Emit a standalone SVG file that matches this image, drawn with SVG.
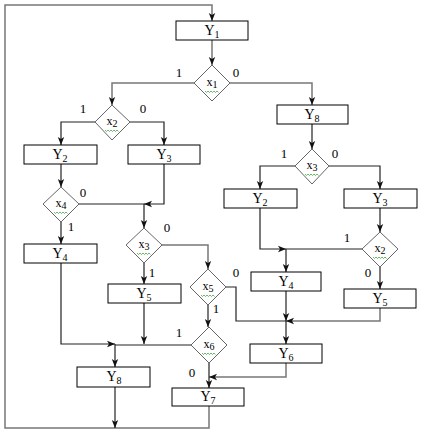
<svg xmlns="http://www.w3.org/2000/svg" width="422" height="433" viewBox="0 0 422 433">
<defs>
<marker id="ah" markerUnits="userSpaceOnUse" markerWidth="8" markerHeight="8" refX="8" refY="4" orient="auto">
<path d="M0,0.8 L8,4 L0,7.2 L2,4 z" fill="#111"/>
</marker>
<path id="squig" d="M-7,0 l1.5,1.5 l1.5,-1.5 l1.5,1.5 l1.5,-1.5 l1.5,1.5 l1.5,-1.5 l1.5,1.5 l1.5,-1.5 l1.5,1.5" fill="none" stroke="#4a4" stroke-width="0.8"/>
</defs>
<style>
.box{fill:#fff;stroke:#000;stroke-width:1}
.dia{fill:#fff;stroke:#666;stroke-width:1}
text{font-family:"Liberation Serif","Times New Roman",serif;font-weight:normal;fill:#000;text-anchor:middle}
.t{font-size:14px}
.s{font-size:10px}
.d{font-size:12px}
.lb{font-size:13px}
.c{fill:none;stroke:#222;stroke-width:1.2}
.g{fill:none;stroke:#777;stroke-width:1.5}
.a{marker-end:url(#ah)}
</style>
<rect width="422" height="433" fill="#fff"/>
<g id="connectors">
<path class="g a" d="M209,406 V428 H5 V5 H212 V21"/>
<path class="g a" d="M212,40 V65"/>
<path class="g a" d="M194,83 H112 V105"/>
<path class="g a" d="M229,83 H312 V105"/>
<path class="c a" d="M95,122 H61 V145"/>
<path class="c a" d="M129,122 H164 V145"/>
<path class="c a" d="M61,164 V187"/>
<path class="c a" d="M61,222 V244"/>
<path class="c a" d="M79,204 H144 V228"/>
<path class="c a" d="M164,164 V204 H144"/>
<path class="c a" d="M144,263 V284"/>
<path class="g a" d="M162,245 H208 V269"/>
<path class="c a" d="M208,305 V327"/>
<path class="c" d="M226,287 H236 V321 H286"/>
<path class="g a" d="M380,308 V321 H286"/>
<path class="c a" d="M286,291 V321"/>
<path class="c a" d="M286,321 V344"/>
<path class="g a" d="M286,363 V377 H209"/>
<path class="c a" d="M209,363 V388"/>
<path class="c a" d="M61,263 V344 H115"/>
<path class="c" d="M191,345 H115"/>
<path class="c a" d="M144,303 V344"/>
<path class="c a" d="M115,344 V367"/>
<path class="c a" d="M115,387 V428"/>
<path class="c a" d="M312,124 V149"/>
<path class="c a" d="M295,166 H260 V189"/>
<path class="c a" d="M329,166 H380 V189"/>
<path class="c a" d="M380,208 V232"/>
<path class="c a" d="M260,208 V249 H286"/>
<path class="c" d="M362,249 H286"/>
<path class="c a" d="M286,249 V272"/>
<path class="c a" d="M380,267 V289"/>
</g>
<g id="Y1"><rect class="box" x="176" y="21" width="72" height="19"/><text class="t" x="212" y="35">Y<tspan class="s" dy="3">1</tspan></text></g>
<g id="x1"><path class="dia" d="M212,65 L230,83 L212,101 L194,83 z"/><text class="d" x="212" y="86">x<tspan class="s" dy="2">1</tspan></text><use href="#squig" x="212" y="91"/></g>
<g id="x2a"><path class="dia" d="M112,105 L130,122 L112,140 L95,122 z"/><text class="d" x="112" y="125">x<tspan class="s" dy="2">2</tspan></text><use href="#squig" x="112" y="130"/></g>
<g id="Y8a"><rect class="box" x="277" y="105" width="71" height="19"/><text class="t" x="312" y="119">Y<tspan class="s" dy="3">8</tspan></text></g>
<g id="Y2a"><rect class="box" x="24" y="145" width="73" height="19"/><text class="t" x="60" y="159">Y<tspan class="s" dy="3">2</tspan></text></g>
<g id="Y3a"><rect class="box" x="128" y="145" width="72" height="19"/><text class="t" x="164" y="159">Y<tspan class="s" dy="3">3</tspan></text></g>
<g id="x4"><path class="dia" d="M61,187 L79,204 L61,222 L43,204 z"/><text class="d" x="61" y="207">x<tspan class="s" dy="2">4</tspan></text><use href="#squig" x="61" y="212"/></g>
<g id="x3a"><path class="dia" d="M144,228 L162,245 L144,263 L126,245 z"/><text class="d" x="144" y="248">x<tspan class="s" dy="2">3</tspan></text><use href="#squig" x="144" y="253"/></g>
<g id="Y4a"><rect class="box" x="24" y="244" width="73" height="19"/><text class="t" x="60" y="258">Y<tspan class="s" dy="3">4</tspan></text></g>
<g id="Y5a"><rect class="box" x="108" y="284" width="73" height="19"/><text class="t" x="144" y="298">Y<tspan class="s" dy="3">5</tspan></text></g>
<g id="x5"><path class="dia" d="M208,269 L226,287 L208,305 L190,287 z"/><text class="d" x="208" y="290">x<tspan class="s" dy="2">5</tspan></text><use href="#squig" x="208" y="295"/></g>
<g id="x6"><path class="dia" d="M209,327 L227,345 L209,363 L191,345 z"/><text class="d" x="209" y="348">x<tspan class="s" dy="2">6</tspan></text><use href="#squig" x="209" y="353"/></g>
<g id="Y8b"><rect class="box" x="77" y="367" width="73" height="20"/><text class="t" x="114" y="381">Y<tspan class="s" dy="3">8</tspan></text></g>
<g id="Y7"><rect class="box" x="172" y="388" width="72" height="18"/><text class="t" x="208" y="401">Y<tspan class="s" dy="3">7</tspan></text></g>
<g id="x3b"><path class="dia" d="M312,149 L329,166 L312,184 L295,166 z"/><text class="d" x="312" y="169">x<tspan class="s" dy="2">3</tspan></text><use href="#squig" x="312" y="174"/></g>
<g id="Y2b"><rect class="box" x="224" y="189" width="73" height="19"/><text class="t" x="260" y="203">Y<tspan class="s" dy="3">2</tspan></text></g>
<g id="Y3b"><rect class="box" x="344" y="189" width="73" height="19"/><text class="t" x="380" y="203">Y<tspan class="s" dy="3">3</tspan></text></g>
<g id="x2b"><path class="dia" d="M380,232 L398,249 L380,267 L362,249 z"/><text class="d" x="380" y="252">x<tspan class="s" dy="2">2</tspan></text><use href="#squig" x="380" y="257"/></g>
<g id="Y4b"><rect class="box" x="251" y="272" width="70" height="19"/><text class="t" x="286" y="286">Y<tspan class="s" dy="3">4</tspan></text></g>
<g id="Y5b"><rect class="box" x="344" y="289" width="72" height="19"/><text class="t" x="380" y="303">Y<tspan class="s" dy="3">5</tspan></text></g>
<g id="Y6"><rect class="box" x="250" y="344" width="72" height="19"/><text class="t" x="286" y="358">Y<tspan class="s" dy="3">6</tspan></text></g>
<g id="labels">
<text class="lb" x="179" y="77">1</text><text class="lb" x="236" y="77">0</text>
<text class="lb" x="83" y="113">1</text><text class="lb" x="143" y="113">0</text>
<text class="lb" x="83" y="197">0</text><text class="lb" x="71" y="231">1</text>
<text class="lb" x="167" y="232">0</text><text class="lb" x="152" y="277">1</text>
<text class="lb" x="236" y="277">0</text><text class="lb" x="216" y="313">1</text>
<text class="lb" x="179" y="337">1</text><text class="lb" x="192" y="377">0</text>
<text class="lb" x="284" y="158">1</text><text class="lb" x="335" y="158">0</text>
<text class="lb" x="347" y="242">1</text><text class="lb" x="368" y="277">0</text>
</g>
</svg>
